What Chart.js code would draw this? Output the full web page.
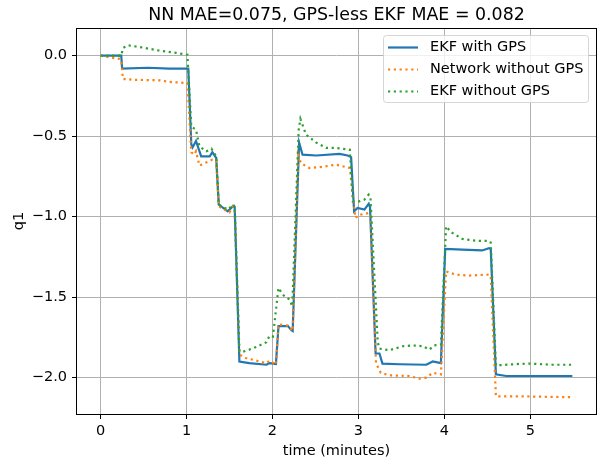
<!DOCTYPE html>
<html>
<head>
<meta charset="utf-8">
<script src="https://cdn.jsdelivr.net/npm/chart.js@4/dist/chart.umd.min.js"></script>
<style>
  body { margin: 0; background: #fff; }
  #wrap { width: 603px; height: 462px; }
</style>
</head>
<body>
<div id="wrap"><canvas id="q1Chart" width="603" height="462"></canvas></div>
<script>
// time in minutes and q1 for each run
var gpsT = [0, 0.24, 0.25, 0.55, 0.8, 1.02, 1.055, 1.07, 1.11, 1.17, 1.27, 1.30, 1.345, 1.375, 1.48, 1.54,
    1.56, 1.615, 1.73, 1.93, 1.965, 2.04, 2.07, 2.18, 2.22, 2.235, 2.31, 2.35, 2.51, 2.78, 2.875, 2.915,
    2.95, 2.99, 3.07, 3.12, 3.135, 3.20, 3.245, 3.28, 3.48, 3.79, 3.865, 3.96, 4.01, 4.21, 4.44, 4.52,
    4.54, 4.60, 4.72, 5.49];
var gpsQ = [0, 0, -0.08, -0.075, -0.08, -0.08, -0.55, -0.57, -0.53, -0.625, -0.625, -0.60, -0.635, -0.925, -0.967, -0.935,
    -0.94, -1.90, -1.91, -1.92, -1.91, -1.915, -1.68, -1.68, -1.705, -1.71, -0.54, -0.615, -0.62, -0.61, -0.62, -0.63,
    -0.967, -0.946, -0.956, -0.92, -0.94, -1.85, -1.85, -1.913, -1.917, -1.92, -1.90, -1.91, -1.20, -1.205, -1.21, -1.196,
    -1.20, -1.98, -1.99, -1.99];

var nnT = [0, 0.105, 0.22, 0.24, 0.26, 0.41, 0.69, 0.80, 1.01, 1.055, 1.09, 1.11, 1.15, 1.23, 1.30, 1.345,
    1.375, 1.50, 1.54, 1.56, 1.615, 1.69, 1.85, 1.93, 1.965, 2.04, 2.07, 2.18, 2.235, 2.30, 2.33, 2.43,
    2.59, 2.74, 2.90, 2.965, 3.01, 3.07, 3.12, 3.14, 3.205, 3.26, 3.36, 3.59, 3.71, 3.79, 3.865, 3.96,
    4.02, 4.13, 4.29, 4.52, 4.54, 4.60, 4.87, 5.49];
var nnQ = [0, -0.01, -0.02, -0.03, -0.145, -0.15, -0.153, -0.163, -0.17, -0.60, -0.615, -0.594, -0.683, -0.663, -0.646, -0.652,
    -0.936, -0.973, -0.936, -0.95, -1.857, -1.878, -1.90, -1.91, -1.895, -1.92, -1.67, -1.677, -1.71, -0.615, -0.667, -0.698,
    -0.69, -0.677, -0.698, -1.008, -0.988, -0.983, -0.977, -0.99, -1.91, -1.97, -1.986, -1.99, -2.006, -2.0, -1.97, -1.98,
    -1.34, -1.36, -1.366, -1.36, -1.37, -2.116, -2.116, -2.122];

var ekfT = [0, 0.24, 0.26, 0.32, 0.45, 0.69, 0.88, 1.01, 1.055, 1.11, 1.15, 1.23, 1.29, 1.345, 1.375, 1.48,
    1.545, 1.56, 1.615, 1.67, 1.73, 1.81, 1.93, 1.965, 2.005, 2.05, 2.07, 2.12, 2.20, 2.23, 2.305, 2.325,
    2.39, 2.51, 2.625, 2.74, 2.90, 2.935, 3.01, 3.07, 3.12, 3.14, 3.225, 3.245, 3.36, 3.515, 3.63, 3.75,
    3.825, 3.88, 3.96, 4.02, 4.08, 4.21, 4.37, 4.52, 4.54, 4.60, 4.87, 4.99, 5.26, 5.49];
var ekfQ = [0, 0, 0.048, 0.064, 0.054, 0.031, 0.017, 0.006, -0.44, -0.46, -0.563, -0.594, -0.578, -0.625, -0.925, -0.956,
    -0.925, -0.94, -1.837, -1.837, -1.826, -1.81, -1.78, -1.74, -1.745, -1.535, -1.443, -1.485, -1.516, -1.557, -0.46, -0.393,
    -0.49, -0.54, -0.573, -0.573, -0.584, -0.905, -0.905, -0.894, -0.863, -0.88, -1.78, -1.82, -1.83, -1.805, -1.80, -1.805,
    -1.826, -1.80, -1.795, -1.06, -1.097, -1.138, -1.15, -1.15, -1.16, -1.924, -1.915, -1.913, -1.92, -1.92];

var seriesNames = ['EKF with GPS', 'Network without GPS', 'EKF without GPS'];
var xTicks = [0, 1, 2, 3, 4, 5];
var yTicks = [0, -0.5, -1.0, -1.5, -2.0];
var chartTitle = 'NN MAE=0.075, GPS-less EKF MAE = 0.082';

var FONT = 'DejaVu Sans';

function toPoints(ts, qs) {
    var pts = [];
    for (var i = 0; i < ts.length; i++) {
        pts.push({x: ts[i], y: qs[i]});
    }
    return pts;
}

function minusSign(v, digits) {
    var s = Math.abs(v).toFixed(digits);
    return v < 0 ? '\u2212' + s : s;
}

// title over the plot area, matplotlib style
var titlePlugin = {
    id: 'plotTitle',
    afterDraw: function(chart) {
        var ctx = chart.ctx, a = chart.chartArea;
        ctx.save();
        ctx.font = '17.4px "' + FONT + '"';
        ctx.fillStyle = '#000';
        ctx.textAlign = 'center';
        ctx.textBaseline = 'alphabetic';
        ctx.fillText(chartTitle, (a.left + a.right) / 2, 20);
        ctx.restore();
    }
};

// black frame round the axes + boxed legend in the upper right
var framePlugin = {
    id: 'frameLegend',
    afterDatasetsDraw: function(chart) {
        var ctx = chart.ctx, a = chart.chartArea;
        ctx.save();
        ctx.strokeStyle = '#000';
        ctx.lineWidth = 1;
        ctx.strokeRect(Math.round(a.left) - 0.5, Math.round(a.top) + 0.5,
            Math.round(a.right) - Math.round(a.left) + 1, Math.round(a.bottom) - Math.round(a.top));
        ctx.restore();
    },
    afterDraw: function(chart) {
        var ctx = chart.ctx;
        var bx = 383.5, by = 35.5, bw = 205, bh = 67, r = 3;
        ctx.save();
        ctx.beginPath();
        ctx.moveTo(bx + r, by);
        ctx.arcTo(bx + bw, by, bx + bw, by + bh, r);
        ctx.arcTo(bx + bw, by + bh, bx, by + bh, r);
        ctx.arcTo(bx, by + bh, bx, by, r);
        ctx.arcTo(bx, by, bx + bw, by, r);
        ctx.closePath();
        ctx.fillStyle = 'rgba(255,255,255,0.8)';
        ctx.fill();
        ctx.strokeStyle = 'rgba(204,204,204,0.8)';
        ctx.lineWidth = 1;
        ctx.stroke();

        ctx.font = '14.5px "' + FONT + '"';
        ctx.textBaseline = 'middle';
        ctx.textAlign = 'left';
        chart.data.datasets.forEach(function(ds, i) {
            var y = 47.5 + i * 22;
            ctx.beginPath();
            ctx.setLineDash(ds.borderDash || []);
            ctx.strokeStyle = ds.borderColor;
            ctx.lineWidth = ds.borderWidth;
            ctx.moveTo(388, y);
            ctx.lineTo(418, y);
            ctx.stroke();
            ctx.setLineDash([]);
            ctx.fillStyle = '#000';
            ctx.fillText(ds.label, 430, y);
        });
        ctx.restore();
    }
};

var ctx = document.getElementById('q1Chart').getContext('2d');
var q1Chart = new Chart(ctx, {
    type: 'line',
    data: {
        datasets: [{
            label: seriesNames[0],
            data: toPoints(gpsT, gpsQ),
            borderColor: '#1f77b4',
            borderWidth: 2.2,
            order: 3
        }, {
            label: seriesNames[1],
            data: toPoints(nnT, nnQ),
            borderColor: '#ff7f0e',
            borderWidth: 2.2,
            borderDash: [2.2, 3.6],
            order: 2
        }, {
            label: seriesNames[2],
            data: toPoints(ekfT, ekfQ),
            borderColor: '#2ca02c',
            borderWidth: 2.2,
            borderDash: [2.2, 3.6],
            order: 1
        }]
    },
    options: {
        responsive: false,
        animation: false,
        devicePixelRatio: 1,
        layout: { padding: { left: 0, right: 7, top: 28, bottom: 0 } },
        elements: {
            point: { radius: 0, hoverRadius: 0 },
            line: { tension: 0, fill: false }
        },
        plugins: {
            legend: { display: false },
            title: { display: false },
            tooltip: { enabled: false }
        },
        scales: {
            x: {
                type: 'linear',
                min: -0.275,
                max: 5.765,
                afterBuildTicks: function(scale) {
                    scale.ticks = xTicks.map(function(v) { return {value: v}; });
                },
                afterFit: function(scale) { scale.height = 48; },
                border: { display: false },
                grid: {
                    color: '#b0b0b0',
                    lineWidth: 1,
                    drawTicks: true,
                    tickLength: 5,
                    tickColor: '#000',
                    tickWidth: 1
                },
                ticks: {
                    autoSkip: false,
                    maxRotation: 0,
                    padding: 4,
                    color: '#000',
                    font: { family: FONT, size: 14.5 },
                    callback: function(v) { return minusSign(v, 0); }
                },
                title: {
                    display: true,
                    text: 'time (minutes)',
                    color: '#000',
                    font: { family: FONT, size: 14.5 },
                    padding: { top: 0, bottom: 1.6 }
                }
            },
            y: {
                type: 'linear',
                min: -2.226,
                max: 0.172,
                afterBuildTicks: function(scale) {
                    scale.ticks = yTicks.map(function(v) { return {value: v}; });
                },
                afterFit: function(scale) { scale.width = 77; },
                border: { display: false },
                grid: {
                    color: '#b0b0b0',
                    lineWidth: 1,
                    drawTicks: true,
                    tickLength: 5,
                    tickColor: '#000',
                    tickWidth: 1
                },
                ticks: {
                    autoSkip: false,
                    padding: 5,
                    color: '#000',
                    font: { family: FONT, size: 14.5 },
                    callback: function(v) { return minusSign(v, 1); }
                },
                title: {
                    display: true,
                    text: 'q1',
                    color: '#000',
                    font: { family: FONT, size: 14.5 },
                    padding: { top: 10.3, bottom: 0 }
                }
            }
        }
    },
    plugins: [titlePlugin, framePlugin]
});
</script>
</body>
</html>
